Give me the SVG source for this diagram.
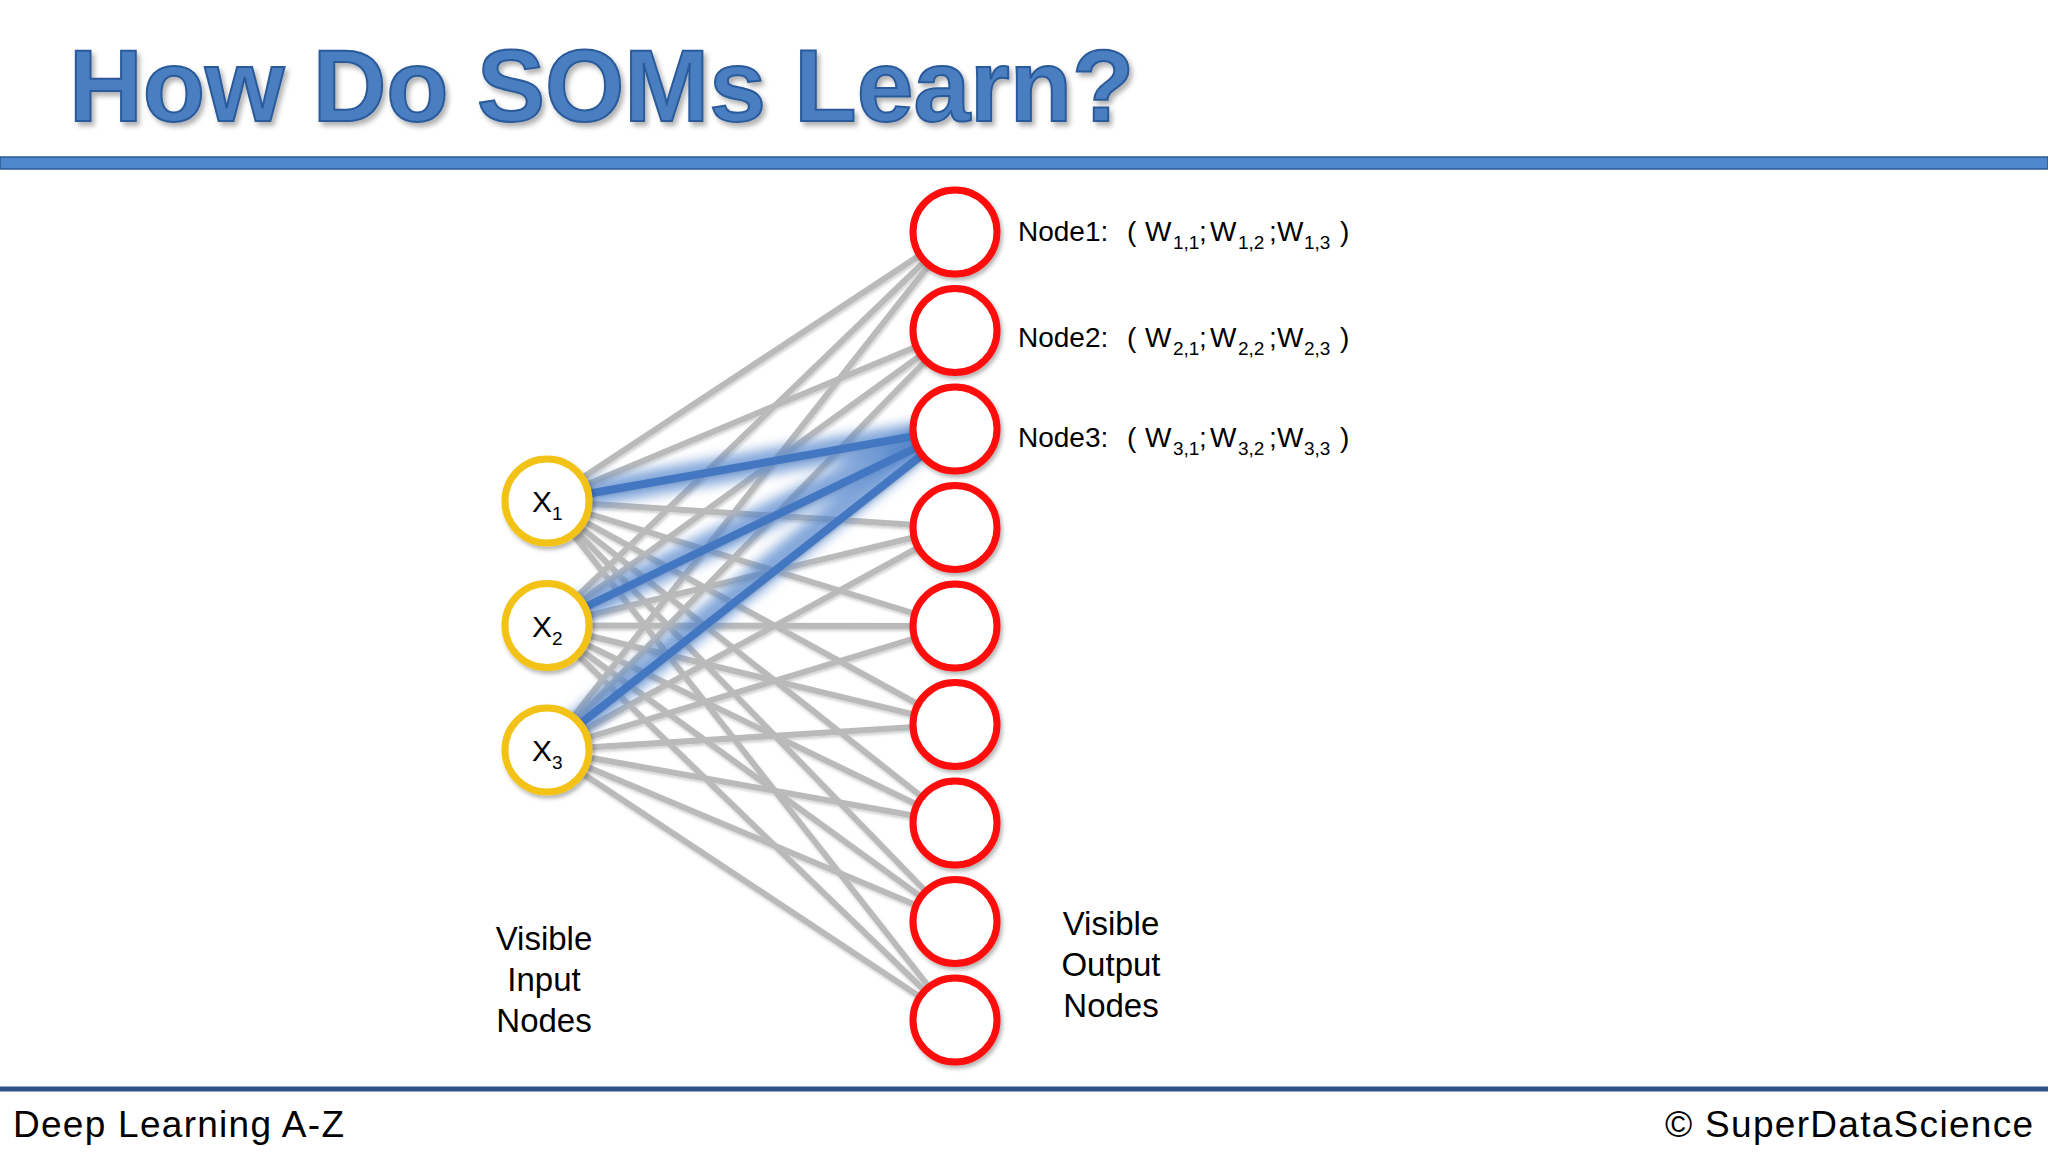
<svg xmlns="http://www.w3.org/2000/svg" width="2048" height="1152" viewBox="0 0 2048 1152">
<defs>
<filter id="shadow" x="-20%" y="-20%" width="140%" height="140%">
<feDropShadow dx="2" dy="3" stdDeviation="2" flood-color="#000" flood-opacity="0.3"/>
</filter>
<filter id="lineShadow" x="-5%" y="-5%" width="110%" height="110%">
<feDropShadow dx="1" dy="2" stdDeviation="1.5" flood-color="#000" flood-opacity="0.2"/>
</filter>
<filter id="titleShadow" x="-5%" y="-20%" width="110%" height="150%">
<feDropShadow dx="3" dy="4" stdDeviation="2.5" flood-color="#000" flood-opacity="0.3"/>
</filter>
<filter id="glow" x="-10%" y="-30%" width="120%" height="160%">
<feGaussianBlur stdDeviation="6"/>
</filter>
</defs>
<style>
.t{font-family:"Liberation Sans",Arial,sans-serif;fill:#000}
.gray line{stroke:#BABABA;stroke-width:6;stroke-linecap:round}
.glow line{stroke:#4F82CA;stroke-width:26;opacity:0.7}
.blue line{stroke:#4477C2;stroke-width:8;stroke-linecap:round}
.in{fill:#fff;stroke:#F2C318;stroke-width:7}
.out{fill:#fff;stroke:#FF0A0A;stroke-width:7}
.lbl{font-size:30px}
.sub{font-size:19px}
.w{font-size:28px}
.ws{font-size:19px}
</style>
<rect width="2048" height="1152" fill="#fff"/>

<g id="title">
<text x="69" y="121" font-family="'Liberation Sans',Arial,sans-serif" font-weight="bold" font-size="102" fill="#4A7EC1" stroke="#2A5A9A" stroke-width="2" filter="url(#titleShadow)">How Do SOMs Learn?</text>
<rect x="0" y="157" width="2048" height="12" fill="#4E87CC" stroke="#2D5B95" stroke-width="1.5"/>
</g>

<g id="connectors">
<g class="gray" filter="url(#lineShadow)">
<line x1="547" y1="501" x2="955" y2="232"/>
<line x1="547" y1="501" x2="955" y2="330.5"/>
<line x1="547" y1="501" x2="955" y2="429"/>
<line x1="547" y1="501" x2="955" y2="527.5"/>
<line x1="547" y1="501" x2="955" y2="626"/>
<line x1="547" y1="501" x2="955" y2="724.5"/>
<line x1="547" y1="501" x2="955" y2="823"/>
<line x1="547" y1="501" x2="955" y2="921.5"/>
<line x1="547" y1="501" x2="955" y2="1020"/>
<line x1="547" y1="625.5" x2="955" y2="232"/>
<line x1="547" y1="625.5" x2="955" y2="330.5"/>
<line x1="547" y1="625.5" x2="955" y2="429"/>
<line x1="547" y1="625.5" x2="955" y2="527.5"/>
<line x1="547" y1="625.5" x2="955" y2="626"/>
<line x1="547" y1="625.5" x2="955" y2="724.5"/>
<line x1="547" y1="625.5" x2="955" y2="823"/>
<line x1="547" y1="625.5" x2="955" y2="921.5"/>
<line x1="547" y1="625.5" x2="955" y2="1020"/>
<line x1="547" y1="750" x2="955" y2="232"/>
<line x1="547" y1="750" x2="955" y2="330.5"/>
<line x1="547" y1="750" x2="955" y2="429"/>
<line x1="547" y1="750" x2="955" y2="527.5"/>
<line x1="547" y1="750" x2="955" y2="626"/>
<line x1="547" y1="750" x2="955" y2="724.5"/>
<line x1="547" y1="750" x2="955" y2="823"/>
<line x1="547" y1="750" x2="955" y2="921.5"/>
<line x1="547" y1="750" x2="955" y2="1020"/>
</g>
<g class="glow" filter="url(#glow)">
<line x1="575" y1="496" x2="925" y2="434"/>
<line x1="575" y1="612" x2="925" y2="438"/>
<line x1="570" y1="730" x2="925" y2="442"/>
</g>
<g class="blue">
<line x1="547" y1="501" x2="955" y2="429"/>
<line x1="547" y1="625.5" x2="955" y2="429"/>
<line x1="547" y1="750" x2="955" y2="429"/>
</g>
</g>

<g id="input-nodes">
<g id="x1"><circle class="in" cx="547" cy="501" r="42" filter="url(#shadow)"/><text class="t lbl" x="532" y="512">X<tspan class="sub" dy="8">1</tspan></text></g>
<g id="x2"><circle class="in" cx="547" cy="625.5" r="42" filter="url(#shadow)"/><text class="t lbl" x="532" y="636.5">X<tspan class="sub" dy="8">2</tspan></text></g>
<g id="x3"><circle class="in" cx="547" cy="750" r="42" filter="url(#shadow)"/><text class="t lbl" x="532" y="761">X<tspan class="sub" dy="8">3</tspan></text></g>
</g>

<g id="output-nodes">
<g id="node1"><circle class="out" cx="955" cy="232" r="42" filter="url(#shadow)"/></g>
<g id="node2"><circle class="out" cx="955" cy="330.5" r="42" filter="url(#shadow)"/></g>
<g id="node3"><circle class="out" cx="955" cy="429" r="42" filter="url(#shadow)"/></g>
<g id="node4"><circle class="out" cx="955" cy="527.5" r="42" filter="url(#shadow)"/></g>
<g id="node5"><circle class="out" cx="955" cy="626" r="42" filter="url(#shadow)"/></g>
<g id="node6"><circle class="out" cx="955" cy="724.5" r="42" filter="url(#shadow)"/></g>
<g id="node7"><circle class="out" cx="955" cy="823" r="42" filter="url(#shadow)"/></g>
<g id="node8"><circle class="out" cx="955" cy="921.5" r="42" filter="url(#shadow)"/></g>
<g id="node9"><circle class="out" cx="955" cy="1020" r="42" filter="url(#shadow)"/></g>
</g>

<g id="weight-labels">
<text class="t w" y="241"><tspan x="1018">Node1:</tspan><tspan x="1127">(</tspan><tspan x="1145">W</tspan><tspan x="1173" dy="8" class="ws">1,1</tspan><tspan x="1199" dy="-8">;</tspan><tspan x="1210">W</tspan><tspan x="1238" dy="8" class="ws">1,2</tspan><tspan x="1269" dy="-8">;</tspan><tspan x="1277">W</tspan><tspan x="1304" dy="8" class="ws">1,3</tspan><tspan x="1340" dy="-8">)</tspan></text>
<text class="t w" y="347"><tspan x="1018">Node2:</tspan><tspan x="1127">(</tspan><tspan x="1145">W</tspan><tspan x="1173" dy="8" class="ws">2,1</tspan><tspan x="1199" dy="-8">;</tspan><tspan x="1210">W</tspan><tspan x="1238" dy="8" class="ws">2,2</tspan><tspan x="1269" dy="-8">;</tspan><tspan x="1277">W</tspan><tspan x="1304" dy="8" class="ws">2,3</tspan><tspan x="1340" dy="-8">)</tspan></text>
<text class="t w" y="447"><tspan x="1018">Node3:</tspan><tspan x="1127">(</tspan><tspan x="1145">W</tspan><tspan x="1173" dy="8" class="ws">3,1</tspan><tspan x="1199" dy="-8">;</tspan><tspan x="1210">W</tspan><tspan x="1238" dy="8" class="ws">3,2</tspan><tspan x="1269" dy="-8">;</tspan><tspan x="1277">W</tspan><tspan x="1304" dy="8" class="ws">3,3</tspan><tspan x="1340" dy="-8">)</tspan></text>
</g>

<g id="input-caption">
<text class="t" font-size="33" text-anchor="middle"><tspan x="544" y="950">Visible</tspan><tspan x="544" y="991">Input</tspan><tspan x="544" y="1032">Nodes</tspan></text>
</g>
<g id="output-caption">
<text class="t" font-size="33" text-anchor="middle"><tspan x="1111" y="935">Visible</tspan><tspan x="1111" y="976">Output</tspan><tspan x="1111" y="1017">Nodes</tspan></text>
</g>

<g id="footer">
<rect x="0" y="1086.5" width="2048" height="5" fill="#2F5386"/>
<text class="t" x="13" y="1137" font-size="37" textLength="331" lengthAdjust="spacing">Deep Learning A-Z</text>
<text class="t" x="1665" y="1137" font-size="37" textLength="368" lengthAdjust="spacing">© SuperDataScience</text>
</g>
</svg>
